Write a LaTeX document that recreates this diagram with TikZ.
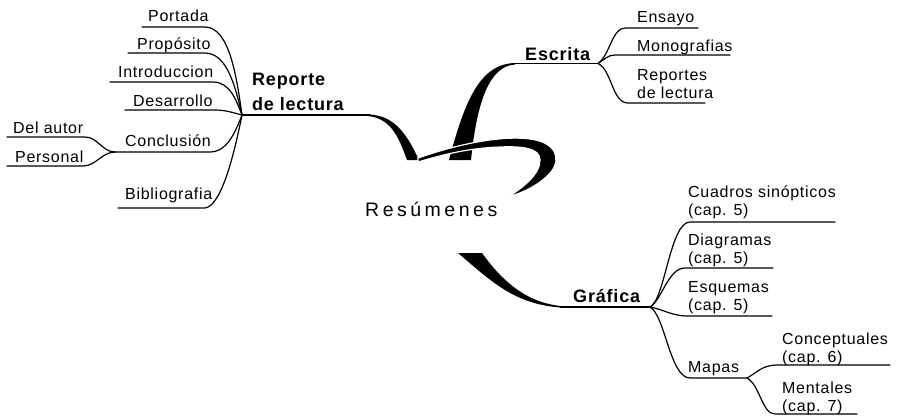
\documentclass[tikz,border=0pt]{standalone}
\usepackage{fontspec}
\setmainfont{Liberation Sans}[LetterSpace=4.5]
\newfontfamily\resfont{Liberation Sans}[LetterSpace=18]
\begin{document}
\begin{tikzpicture}[x=1pt,y=-1pt,
  leaf/.style={anchor=base west, inner sep=0pt, font=\fontsize{16}{17.5}\selectfont, align=left},
  mainlbl/.style={anchor=base west, inner sep=0pt, font=\bfseries\fontsize{18}{25}\selectfont, align=left},
  conn/.style={line width=1.2pt, line cap=round, line join=round},
  blob/.style={fill=black, draw=none},
  hookstyle/.style={fill=black, draw=white, line width=1.2pt}]
\useasboundingbox (0,0) rectangle (900,416);

% ---------- hubs ----------
\coordinate (hubR) at (242,115);
\coordinate (repJ) at (370,115);
\coordinate (hubE) at (598,63.5);
\coordinate (escJ) at (512,63.5);
\coordinate (hubG) at (650,307);
\coordinate (graJ) at (560,307);
\coordinate (conclW) at (115,152);
\coordinate (mapasE) at (747,378);

% ---------- central shapes ----------
\fill[blob] (365,114.3) .. controls (392,114) and (405,130) .. (419,160)
  -- (407,160) .. controls (398,135) and (390,117) .. (365,115.8) -- cycle;
\fill[blob] (449,160) .. controls (465,100) and (480,64) .. (515,63)
  -- (515,64.5) .. controls (490,66) and (477,100) .. (471,160) -- cycle;
\filldraw[hookstyle] (418,158) .. controls (455,145) and (500,135) .. (530,139)
  .. controls (555,142) and (562,158) .. (551,172)
  .. controls (540,185) and (522,193) .. (508,197)
  .. controls (522,188) and (540,175) .. (540,160)
  .. controls (540,148) and (522,146) .. (500,147)
  .. controls (470,148) and (445,154) .. (418,162) -- cycle;
\fill[blob] (458,253) .. controls (490,280) and (515,306) .. (565,307.6)
  -- (565,306.4) .. controls (530,304) and (505,285) .. (482,253) -- cycle;

\node[anchor=base west, inner sep=0pt, font=\resfont\fontsize{19.5}{22}\selectfont] (res) at (365,216) {Resúmenes};

% ---------- main labels ----------
\node[mainlbl] (reporte) at (252,110) {Reporte\\de lectura};
\node[mainlbl] (escrita) at (525,60) {Escrita};
\node[mainlbl] (grafica) at (573,302) {Gráfica};

\draw[conn] (hubR) -- (repJ);
\draw[conn] (escJ) -- (hubE);
\draw[conn] (graJ) -- (hubG);

% ---------- Reporte de lectura leaves ----------
\node[leaf] (portada) at (148,21) {Portada};
\coordinate (portadaE) at (205,27); \coordinate (portadaW) at (142,27);
\draw[conn] (hubR) .. controls (237,80) and (230,27) .. (portadaE) -- (portadaW);

\node[leaf] (proposito) at (137,49) {Propósito};
\coordinate (propE) at (205,53); \coordinate (propW) at (128,53);
\draw[conn] (hubR) .. controls (236,90) and (228,53) .. (propE) -- (propW);

\node[leaf] (intro) at (118,77) {Introduccion};
\coordinate (introE) at (213,82); \coordinate (introW) at (110,82);
\draw[conn] (hubR) .. controls (236,100) and (230,82) .. (introE) -- (introW);

\node[leaf] (desarrollo) at (133,106) {Desarrollo};
\coordinate (desE) at (215,110); \coordinate (desW) at (125,110);
\draw[conn] (hubR) .. controls (234,113) and (226,110) .. (desE) -- (desW);

\node[leaf] (conclusion) at (125,146) {Conclusión};
\coordinate (conclE) at (210,152);
\draw[conn] (hubR) .. controls (236,130) and (228,152) .. (conclE) -- (conclW);

\node[leaf] (biblio) at (125,199) {Bibliografia};
\coordinate (bibE) at (205,208); \coordinate (bibW) at (118,208);
\draw[conn] (hubR) .. controls (235,150) and (222,206) .. (bibE) -- (bibW);

\node[leaf] (delautor) at (13,133) {Del autor};
\coordinate (delE) at (85,137); \coordinate (delW) at (7,137);
\draw[conn] (conclW) .. controls (102,152) and (98,137) .. (delE) -- (delW);

\node[leaf] (personal) at (15,162) {Personal};
\coordinate (perE) at (83,166); \coordinate (perW) at (7,166);
\draw[conn] (conclW) .. controls (102,152) and (96,166) .. (perE) -- (perW);

% ---------- Escrita leaves ----------
\node[leaf] (ensayo) at (637,22) {Ensayo};
\coordinate (ensW) at (625,28); \coordinate (ensE) at (698,28);
\draw[conn] (hubE) .. controls (610,55) and (612,28) .. (ensW) -- (ensE);

\node[leaf] (mono) at (637,51) {Monografias};
\coordinate (monoW) at (615,55); \coordinate (monoE) at (730,55);
\draw[conn] (hubE) .. controls (605,59) and (608,55) .. (monoW) -- (monoE);

\node[leaf] (reportes) at (637,98) {Reportes\\de lectura};
\coordinate (repsW) at (628,103); \coordinate (repsE) at (705,103);
\draw[conn] (hubE) .. controls (612,70) and (612,103) .. (repsW) -- (repsE);

% ---------- Gráfica leaves ----------
\node[leaf] (cuadros) at (688,215) {Cuadros sinópticos\\(cap. 5)};
\coordinate (cuaW) at (690,222); \coordinate (cuaE) at (835,222);
\draw[conn] (hubG) .. controls (665,300) and (670,222) .. (cuaW) -- (cuaE);

\node[leaf] (diagramas) at (688,263) {Diagramas\\(cap. 5)};
\coordinate (diaW) at (685,268); \coordinate (diaE) at (773,268);
\draw[conn] (hubG) .. controls (662,300) and (668,268) .. (diaW) -- (diaE);

\node[leaf] (esquemas) at (688,310) {Esquemas\\(cap. 5)};
\coordinate (esqW) at (688,316); \coordinate (esqE) at (772,316);
\draw[conn] (hubG) .. controls (665,310) and (672,316) .. (esqW) -- (esqE);

\node[leaf] (mapas) at (688,372) {Mapas};
\coordinate (mapW) at (690,378);
\draw[conn] (hubG) .. controls (665,315) and (670,378) .. (mapW) -- (mapasE);

\node[leaf] (concept) at (782,362) {Conceptuales\\(cap. 6)};
\coordinate (conW) at (778,365); \coordinate (conE) at (890,365);
\draw[conn] (mapasE) .. controls (758,372) and (762,365) .. (conW) -- (conE);

\node[leaf] (mentales) at (782,411) {Mentales\\(cap. 7)};
\coordinate (menW) at (775,414); \coordinate (menE) at (857,414);
\draw[conn] (mapasE) .. controls (760,385) and (762,414) .. (menW) -- (menE);
\end{tikzpicture}
\end{document}
